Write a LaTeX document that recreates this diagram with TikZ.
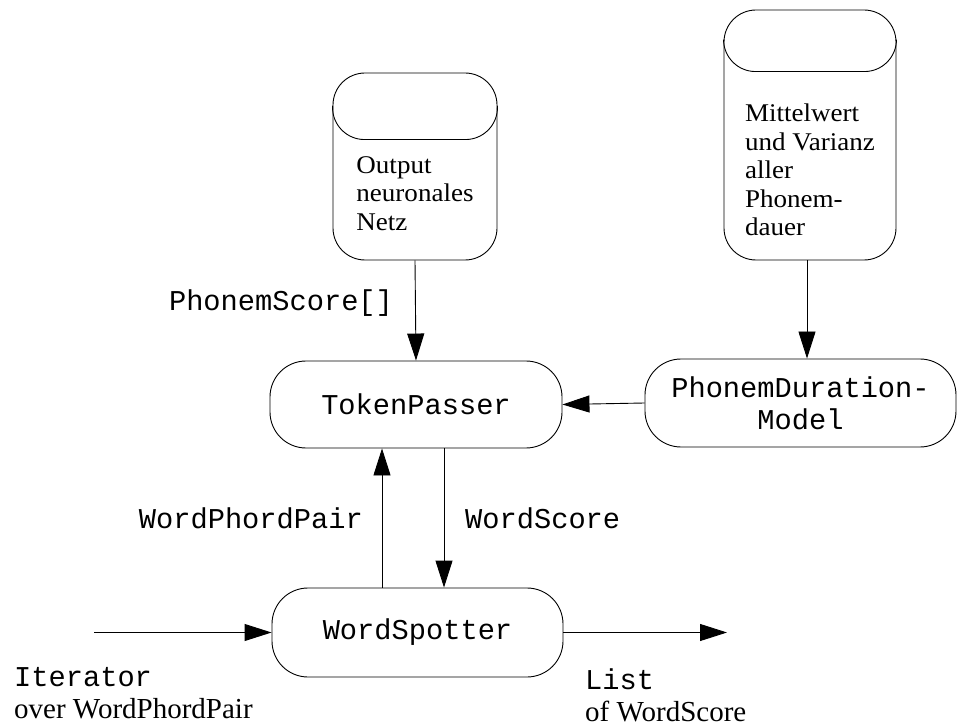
\documentclass[tikz,border=0pt]{standalone}
\usepackage{fontspec}
\setmainfont{Liberation Serif}
\setmonofont{Liberation Mono}
\newfontfamily\dbserif[FakeStretch=1.06]{Liberation Serif}
\usetikzlibrary{arrows.meta}

\tikzset{
  procbox/.style={draw, line width=0.9pt, rounded corners=36pt, inner sep=0pt,
    align=center, font=\fontsize{28.7}{32}\selectfont\ttfamily},
  dbbody/.style={draw, line width=0.9pt, rounded corners=32pt, inner sep=0pt},
  dbtext/.style={align=left, inner sep=0pt, font=\fontsize{25.5}{28.6}\selectfont\dbserif},
  codelbl/.style={inner sep=0pt, font=\fontsize{28.7}{32}\selectfont\ttfamily},
  iolbl/.style={inner sep=0pt, align=left, anchor=north west,
    font=\fontsize{29}{32}\selectfont},
  flow/.style={draw, line width=0.9pt, -{Triangle[length=27pt,width=17pt]}},
  capline/.style={draw, line width=0.9pt, rounded corners=32pt},
}

\newcommand\codetxt{\fontsize{28.7}{32}\selectfont\ttfamily}
\newcommand\plaintxt{\fontsize{29}{32}\selectfont\rmfamily}

\begin{document}
\begin{tikzpicture}[x=1pt,y=-1pt]
  \useasboundingbox (0,0) rectangle (959,727);

  % data stores (cylinders)
  \node[dbbody, minimum width=164pt, minimum height=187pt] (netz) at (415,166.5) {};
  \path[capline] ([yshift=-33pt]netz.north west) |- ([yshift=-67pt]netz.north)
                 -| ([yshift=-33pt]netz.north east);
  \node[dbtext] (netztext) at ([yshift=-27pt]netz.center) {Output\\neuronales\\Netz};

  \node[dbbody, minimum width=172pt, minimum height=250pt] (dauer) at (810,135) {};
  \path[capline] ([yshift=-31pt]dauer.north west) |- ([yshift=-62pt]dauer.north)
                 -| ([yshift=-31pt]dauer.north east);
  \node[dbtext] (dauertext) at ([yshift=-35pt]dauer.center)
       {Mittelwert\\und Varianz\\aller\\Phonem-\\dauer};

  % processes
  \node[procbox, minimum width=292pt, minimum height=87pt] (tp) at (416,404.5) {TokenPasser};
  \node[procbox, minimum width=311pt, minimum height=88pt] (pdm) at (800.5,403)
       {PhonemDuration-\\Model};
  \node[procbox, minimum width=291pt, minimum height=89pt] (ws) at (417.5,632.5) {WordSpotter};

  % free ends of the input and output flows
  \coordinate (src) at (94,632.5);
  \coordinate (dst) at (727,632.5);

  % flows
  \path[flow] (netz.south) -- (tp.north);
  \path[flow] ([xshift=-3pt]dauer.south) -- ([xshift=-3pt]dauer.south |- pdm.north);
  \path[flow] (pdm.west) -- (tp.east);
  \path[flow] ([xshift=-35.5pt]ws.north) -- ([xshift=-35.5pt]ws.north |- tp.south);
  \path[flow] ([xshift=28pt]tp.south) -- ([xshift=28pt]tp.south |- ws.north);
  \path[flow] (src) -- (ws.west);
  \path[flow] (ws.east) -- (dst);

  % flow labels
  \node[codelbl] (lscore) at (281,303) {PhonemScore[]};
  \node[codelbl, anchor=east] (lpair) at (363,518) {WordPhordPair};
  \node[codelbl, anchor=west] (lword) at (465,518) {WordScore};
  \node[iolbl] (lin) at (14,667) {\codetxt Iterator\\\plaintxt over WordPhordPair};
  \node[iolbl] (lout) at (585,669) {\codetxt List\\\plaintxt of WordScore};
\end{tikzpicture}
\end{document}
